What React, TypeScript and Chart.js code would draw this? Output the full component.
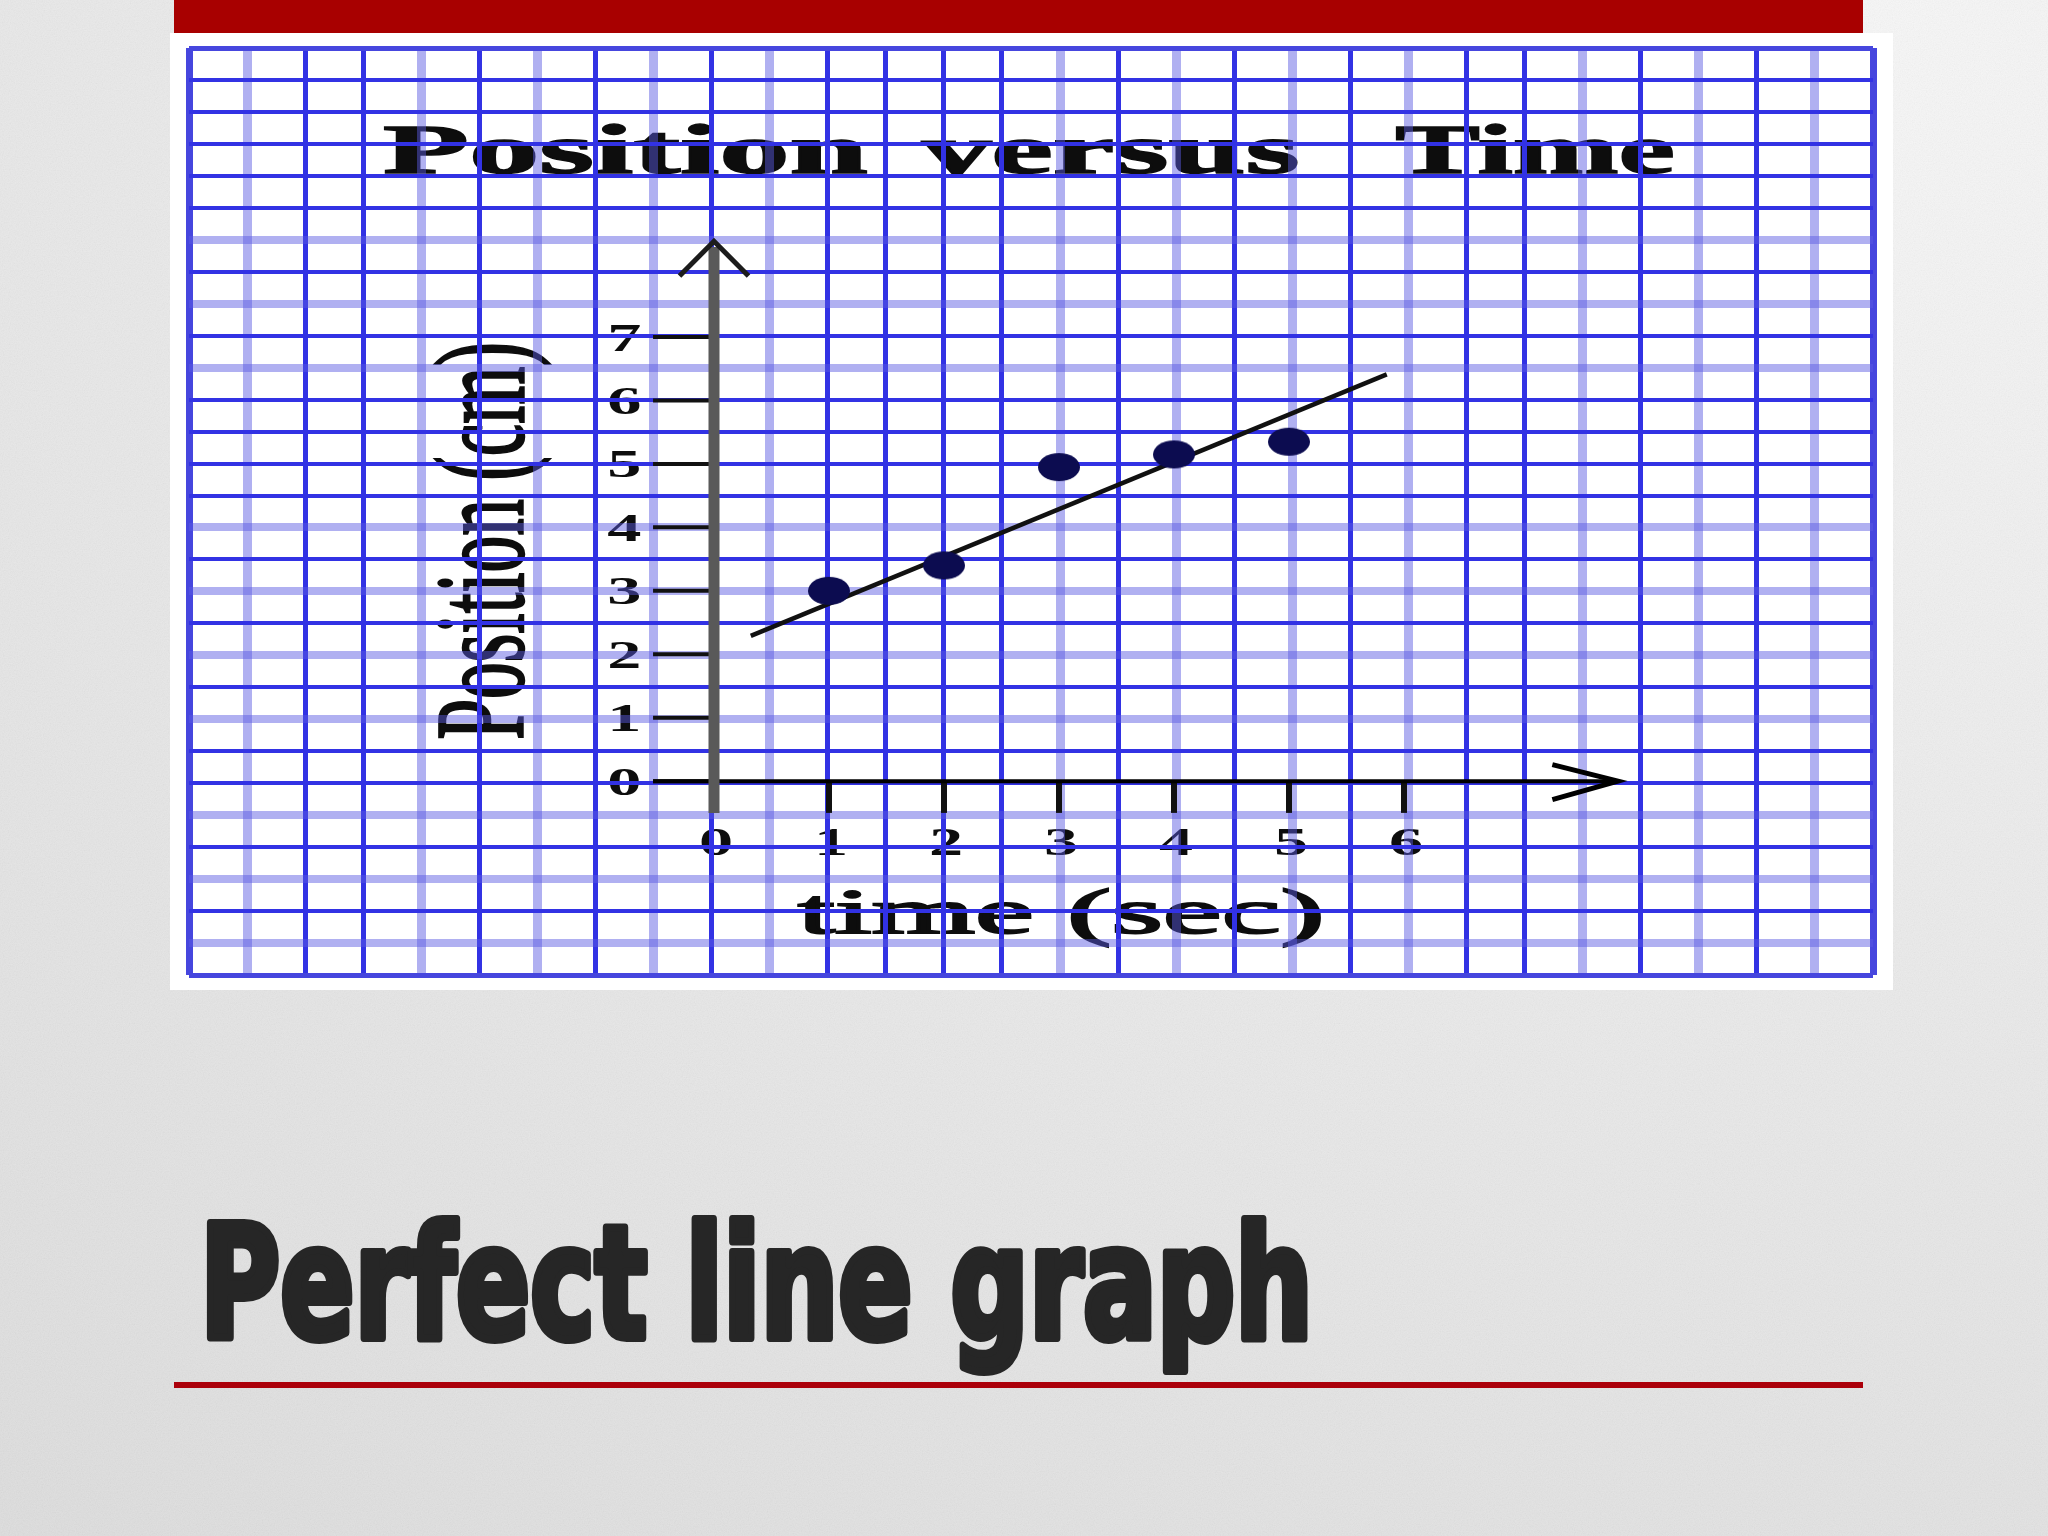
import React, { useEffect, useRef } from "react";
import { Chart, registerables } from "chart.js";

Chart.register(...registerables);

// ---------------- data ----------------
const TIMES = [1, 2, 3, 4, 5];
const POSITIONS = [3.0, 3.4, 4.95, 5.15, 5.35];
const FIT_TIMES = [0.32, 5.85];
const FIT_POSITIONS = [2.29, 6.41];
const X_TICKS = [0, 1, 2, 3, 4, 5, 6];
const Y_TICKS = [0, 1, 2, 3, 4, 5, 6, 7];
const TITLE_WORDS = ["Position", "versus", "Time"];
const X_TITLE = "time (sec)";
const Y_TITLE = "Position (cm)";
const SLIDE_TITLE = "Perfect line graph";

// graph-paper grid (29 intervals each way) and the lines that look faded
const GRID_INTERVALS = 29;
const LIGHT_COLS = [1, 4, 6, 8, 10, 15, 17, 19, 21, 24, 26, 28];
const LIGHT_ROWS = [6, 8, 10, 15, 17, 19, 21, 24, 26, 28];

// ---------------- layout (page pixels) ----------------
const CANVAS_LEFT = 170;
const CANVAS_TOP = 33;
const CANVAS_W = 1723;
const CANVAS_H = 957;
const GRID_LEFT = 189;
const GRID_RIGHT = 1873;
const GRID_TOP = 44;
const GRID_BOTTOM = 979;
const ORIGIN_X = 714;
const ORIGIN_Y = 783.5;
const PX_PER_X = 115;
const PX_PER_Y = 64;

const X_MIN = (GRID_LEFT - ORIGIN_X) / PX_PER_X;
const X_MAX = (GRID_RIGHT - ORIGIN_X) / PX_PER_X;
const Y_MAX = (ORIGIN_Y - GRID_TOP) / PX_PER_Y;
const Y_MIN = (ORIGIN_Y - GRID_BOTTOM) / PX_PER_Y;

const DARK_BLUE = "rgb(50,50,228)";
const LIGHT_BLUE = "rgba(90,90,225,0.48)";
const BORDER_BLUE = "rgb(70,70,222)";

function fitText(
  ctx: CanvasRenderingContext2D,
  text: string,
  font: string,
  left: number,
  right: number,
  baseline: number,
  stroke = 0
) {
  ctx.save();
  ctx.font = font;
  ctx.textAlign = "left";
  ctx.textBaseline = "alphabetic";
  const m = ctx.measureText(text);
  const inkW = m.actualBoundingBoxLeft + m.actualBoundingBoxRight;
  const s = (right - left) / inkW;
  ctx.translate(left, baseline);
  ctx.scale(s, 1);
  ctx.fillText(text, m.actualBoundingBoxLeft, 0);
  if (stroke > 0) {
    ctx.lineWidth = stroke;
    ctx.strokeStyle = ctx.fillStyle as string;
    ctx.strokeText(text, m.actualBoundingBoxLeft, 0);
  }
  ctx.restore();
}

function fitTextVertical(
  ctx: CanvasRenderingContext2D,
  text: string,
  font: string,
  bottom: number,
  top: number,
  baselineX: number,
  stroke = 0
) {
  ctx.save();
  ctx.font = font;
  ctx.textAlign = "left";
  ctx.textBaseline = "alphabetic";
  const m = ctx.measureText(text);
  const inkW = m.actualBoundingBoxLeft + m.actualBoundingBoxRight;
  const s = (bottom - top) / inkW;
  ctx.translate(baselineX, bottom);
  ctx.rotate(-Math.PI / 2);
  ctx.scale(s, 1);
  ctx.fillText(text, m.actualBoundingBoxLeft, 0);
  if (stroke > 0) {
    ctx.lineWidth = stroke;
    ctx.strokeStyle = ctx.fillStyle as string;
    ctx.strokeText(text, m.actualBoundingBoxLeft, 0);
  }
  ctx.restore();
}

function stretchedLabel(
  ctx: CanvasRenderingContext2D,
  text: string,
  cx: number,
  baseline: number
) {
  ctx.save();
  ctx.font = "bold 39px 'Liberation Serif', serif";
  ctx.textAlign = "center";
  ctx.textBaseline = "alphabetic";
  ctx.translate(cx, baseline);
  ctx.scale(1.75, 1);
  ctx.fillText(text, 0, 0);
  ctx.restore();
}

const decorPlugin = {
  id: "graphPaperDecor",
  beforeDraw(chart: any) {
    const { ctx } = chart;
    const xs = chart.scales.x;
    const ys = chart.scales.y;
    ctx.save();
    ctx.fillStyle = "#ffffff";
    ctx.fillRect(0, 0, chart.width, chart.height);
    ctx.fillStyle = "#0d0d0d";

    // chart title, word by word (page coords -> canvas coords)
    const spans = [
      [385, 866],
      [922, 1297],
      [1397, 1673],
    ];
    TITLE_WORDS.forEach((w, i) => {
      fitText(
        ctx,
        w,
        "bold 70px 'Liberation Serif', serif",
        spans[i][0] - CANVAS_LEFT,
        spans[i][1] - CANVAS_LEFT,
        173 - CANVAS_TOP,
        1.5
      );
    });

    // x axis title
    fitText(
      ctx,
      X_TITLE,
      "64px 'Liberation Serif', serif",
      798 - CANVAS_LEFT,
      1320 - CANVAS_LEFT,
      933 - CANVAS_TOP,
      2
    );

    // y axis title (rotated)
    fitTextVertical(
      ctx,
      Y_TITLE,
      "126px 'Liberation Serif', serif",
      738 - CANVAS_TOP,
      345 - CANVAS_TOP,
      523 - CANVAS_LEFT,
      2.5
    );

    // tick labels
    const yLabelX = xs.getPixelForValue(-0.78);
    Y_TICKS.forEach((v) => {
      stretchedLabel(ctx, String(v), yLabelX, ys.getPixelForValue(v) + 13.5);
    });
    const xLabelBase = ys.getPixelForValue(0) + 73.5;
    X_TICKS.forEach((v) => {
      stretchedLabel(ctx, String(v), xs.getPixelForValue(v) + 2, xLabelBase);
    });
    ctx.restore();
  },
  beforeDatasetsDraw(chart: any) {
    const { ctx } = chart;
    const xs = chart.scales.x;
    const ys = chart.scales.y;
    const X = (v: number) => xs.getPixelForValue(v);
    const Y = (v: number) => ys.getPixelForValue(v);
    const seg = (pts: number[][]) => {
      ctx.beginPath();
      ctx.moveTo(X(pts[0][0]), Y(pts[0][1]));
      for (let i = 1; i < pts.length; i++) ctx.lineTo(X(pts[i][0]), Y(pts[i][1]));
      ctx.stroke();
    };
    ctx.save();
    ctx.lineCap = "butt";
    ctx.lineJoin = "miter";

    // y tick marks
    ctx.strokeStyle = "#111111";
    ctx.lineWidth = 4;
    Y_TICKS.forEach((v) => seg([[-0.53, v], [0, v]]));

    // x tick marks
    ctx.lineWidth = 6;
    X_TICKS.filter((v) => v > 0).forEach((v) => seg([[v, 0], [v, -0.5]]));

    // x axis + arrow
    ctx.strokeStyle = "#000000";
    ctx.lineWidth = 4;
    seg([[-0.53, 0], [7.84, 0]]);
    ctx.lineWidth = 5;
    seg([[7.29, 0.26], [7.86, 0], [7.29, -0.29]]);

    // y axis (grey, thick) + arrow
    ctx.strokeStyle = "#595959";
    ctx.lineWidth = 11;
    seg([[0, -0.5], [0, 8.42]]);
    ctx.strokeStyle = "#1c1c1c";
    ctx.lineWidth = 5;
    seg([[-0.3, 7.96], [0, 8.51], [0.3, 7.96]]);
    ctx.restore();
  },
};

function makeDot(): HTMLCanvasElement {
  const c = document.createElement("canvas");
  c.width = 44;
  c.height = 30;
  const d = c.getContext("2d")!;
  d.fillStyle = "#0c0c50";
  d.beginPath();
  d.ellipse(22, 15, 21, 14, 0, 0, Math.PI * 2);
  d.fill();
  return c;
}

const colFor = (v: number) =>
  v === 0 || v === GRID_INTERVALS ? BORDER_BLUE : LIGHT_COLS.includes(v) ? LIGHT_BLUE : DARK_BLUE;
const colWidth = (v: number) =>
  v === 0 || v === GRID_INTERVALS ? 7 : LIGHT_COLS.includes(v) ? 9 : 5;
const rowFor = (v: number) =>
  v === 0 || v === GRID_INTERVALS ? BORDER_BLUE : LIGHT_ROWS.includes(v) ? LIGHT_BLUE : DARK_BLUE;
const rowWidth = (v: number) =>
  v === 0 || v === GRID_INTERVALS ? 5 : LIGHT_ROWS.includes(v) ? 8 : 4;

export default function App() {
  const canvasRef = useRef<HTMLCanvasElement>(null);

  useEffect(() => {
    const canvas = canvasRef.current;
    if (!canvas) return;
    const dot = makeDot();
    const chart = new Chart(canvas, {
      type: "scatter",
      data: {
        datasets: [
          {
            label: "measured",
            data: TIMES.map((t, i) => ({ x: t, y: POSITIONS[i] })),
            pointStyle: dot as any,
            pointRadius: 14,
            showLine: false,
            xAxisID: "x",
            yAxisID: "y",
            order: 0,
          },
          {
            label: "best fit",
            data: FIT_TIMES.map((t, i) => ({ x: t, y: FIT_POSITIONS[i] })),
            showLine: true,
            borderColor: "#111111",
            borderWidth: 4.5,
            pointRadius: 0,
            xAxisID: "x",
            yAxisID: "y",
            order: 1,
          },
        ],
      },
      options: {
        animation: false,
        responsive: false,
        events: [],
        layout: {
          padding: {
            left: GRID_LEFT - CANVAS_LEFT,
            top: GRID_TOP - CANVAS_TOP,
            right: CANVAS_LEFT + CANVAS_W - GRID_RIGHT,
            bottom: CANVAS_TOP + CANVAS_H - GRID_BOTTOM,
          },
        },
        plugins: {
          legend: { display: false },
          tooltip: { enabled: false },
          title: { display: false },
        },
        scales: {
          x: { type: "linear", min: X_MIN, max: X_MAX, display: false },
          y: { type: "linear", min: Y_MIN, max: Y_MAX, display: false },
          gx: {
            type: "linear",
            axis: "x",
            position: "bottom",
            min: 0,
            max: GRID_INTERVALS,
            ticks: { display: false, stepSize: 1, autoSkip: false, maxTicksLimit: 100 },
            border: { display: false },
            grid: {
              drawTicks: false,
              tickLength: 0,
              color: (c: any) => colFor(Math.round(c.tick ? c.tick.value : c.index)),
              lineWidth: (c: any) => colWidth(Math.round(c.tick ? c.tick.value : c.index)),
            },
          },
          gy: {
            type: "linear",
            axis: "y",
            position: "left",
            reverse: true,
            min: 0,
            max: GRID_INTERVALS,
            ticks: { display: false, stepSize: 1, autoSkip: false, maxTicksLimit: 100 },
            border: { display: false },
            grid: {
              drawTicks: false,
              tickLength: 0,
              color: (c: any) => rowFor(Math.round(c.tick ? c.tick.value : c.index)),
              lineWidth: (c: any) => rowWidth(Math.round(c.tick ? c.tick.value : c.index)),
            },
          },
        },
      } as any,
      plugins: [decorPlugin as any],
    });
    return () => chart.destroy();
  }, []);

  return (
    <div
      style={{
        position: "fixed",
        left: 0,
        top: 0,
        width: 2048,
        height: 1536,
        overflow: "hidden",
        background:
          "radial-gradient(ellipse 150% 130% at 85% 0%, #f8f8f8 0%, #ededed 40%, #dcdcdc 100%)",
      }}
    >
      <svg
        width={2048}
        height={1536}
        style={{ position: "absolute", left: 0, top: 0 }}
      >
        <filter id="grain">
          <feTurbulence type="fractalNoise" baseFrequency="0.85" numOctaves="2" stitchTiles="stitch" />
          <feColorMatrix type="matrix" values="1 0 0 0 0  1 0 0 0 0  1 0 0 0 0  0 0 0 0 1" />
        </filter>
        <rect width="100%" height="100%" filter="url(#grain)" opacity="0.06" />
      </svg>

      <div
        style={{
          position: "absolute",
          left: 174,
          top: 0,
          width: 1689,
          height: 33,
          background: "#a80000",
        }}
      />

      <canvas
        ref={canvasRef}
        width={CANVAS_W}
        height={CANVAS_H}
        style={{
          position: "absolute",
          left: CANVAS_LEFT,
          top: CANVAS_TOP,
          width: CANVAS_W,
          height: CANVAS_H,
        }}
      />

      <svg
        width={2048}
        height={1536}
        style={{ position: "absolute", left: 0, top: 0, pointerEvents: "none" }}
      >
        <text
          x={200}
          y={1338}
          fontFamily="'Liberation Sans Narrow', 'DejaVu Sans Condensed', 'Liberation Sans', sans-serif"
          fontWeight={700}
          fontSize={156}
          textLength={1113}
          lengthAdjust="spacingAndGlyphs"
          fill="#262626"
          stroke="#262626"
          strokeWidth={8}
          strokeLinejoin="round"
        >
          {SLIDE_TITLE}
        </text>
      </svg>

      <div
        style={{
          position: "absolute",
          left: 174,
          top: 1382,
          width: 1689,
          height: 6,
          background: "#ab000a",
        }}
      />
    </div>
  );
}
